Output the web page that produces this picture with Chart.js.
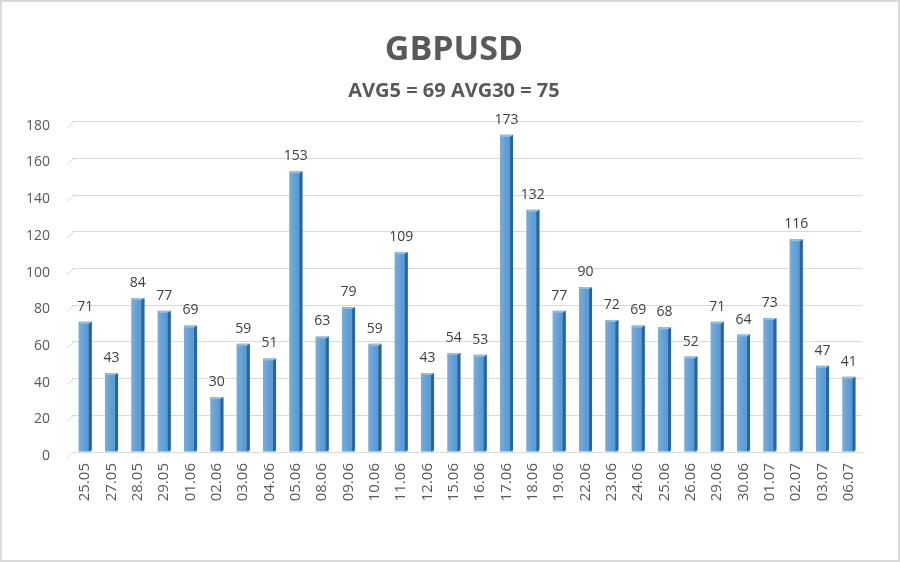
<!DOCTYPE html>
<html><head><meta charset="utf-8">
<script src="https://cdn.jsdelivr.net/npm/chart.js@4/dist/chart.umd.min.js"></script>
<style>html,body{margin:0;padding:0;background:#fff}#wrap{width:900px;height:562px}</style>
</head><body><div id="wrap"><canvas id="c" width="900" height="562"></canvas></div>
<script>
const categories = ["25.05","27.05","28.05","29.05","01.06","02.06","03.06","04.06","05.06","08.06","09.06","10.06","11.06","12.06","15.06","16.06","17.06","18.06","19.06","22.06","23.06","24.06","25.06","26.06","29.06","30.06","01.07","02.07","03.07","06.07"];
const values = [71,43,84,77,69,30,59,51,153,63,79,59,109,43,54,53,173,132,77,90,72,69,68,52,71,64,73,116,47,41];
const titleText = "GBPUSD";
const subtitleText = "AVG5 = 69 AVG30 = 75";
const yTicks = {min:0, max:180, step:20};

const FONT = "'Open Sans', 'DejaVu Sans', sans-serif";
const TXT = "#595959";

const deco = {
  id:'deco',
  afterLayout(chart){
    chart.boxes.forEach(b=>{
      if (b.options && b.options.text !== undefined && b.position === 'top') { b.left = 46; }
    });
  },
  beforeDraw(chart){
    const {ctx, scales:{y}, chartArea:a} = chart;
    ctx.save();
    ctx.fillStyle='#fff'; ctx.fillRect(0,0,chart.width,chart.height);
    ctx.strokeStyle='#d9d9d9'; ctx.lineWidth=2;
    ctx.strokeRect(1,1,chart.width-2,chart.height-2);
    ctx.lineWidth=1;
    y.ticks.forEach(t=>{
      const py = y.getPixelForValue(t.value);
      ctx.beginPath(); ctx.moveTo(a.left-5, py+6); ctx.lineTo(a.left+2, py); ctx.stroke();
    });
    ctx.restore();
  },
  afterDatasetsDraw(chart){
    const {ctx} = chart;
    const meta = chart.getDatasetMeta(0);
    ctx.save();
    meta.data.forEach((el,i)=>{
      const {x,y,base,width} = el.getProps(['x','y','base','width'],true);
      const l = x - width/2, r = x + width/2;
      const g = ctx.createLinearGradient(l,0,r,0);
      g.addColorStop(0,'rgba(255,255,255,0.18)');
      g.addColorStop(0.6,'rgba(255,255,255,0)');
      g.addColorStop(1,'rgba(0,0,0,0.08)');
      ctx.fillStyle=g; ctx.fillRect(l, y, width, base-y);
      ctx.fillStyle='#2a649c';
      ctx.beginPath();
      ctx.moveTo(r-3, y+2); ctx.lineTo(r, y); ctx.lineTo(r, base-2); ctx.lineTo(r-3, base); ctx.closePath(); ctx.fill();
      ctx.fillStyle='#8fc0ea';
      ctx.beginPath();
      ctx.moveTo(l, y+2); ctx.lineTo(l+3, y); ctx.lineTo(r, y); ctx.lineTo(r-3, y+2); ctx.closePath(); ctx.fill();
      ctx.fillStyle='#404040';
      ctx.font = "14px " + FONT;
      ctx.textAlign='center'; ctx.textBaseline='bottom';
      ctx.fillText(String(values[i]), x, y-8);
    });
    ctx.restore();
  }
};

new Chart(document.getElementById('c'), {
  type:'bar',
  data:{
    labels: categories,
    datasets:[{
      data: values,
      backgroundColor:'#5b9bd5',
      borderWidth:0,
      categoryPercentage:0.92,
      barPercentage:0.54
    }]
  },
  options:{
    responsive:false, animation:false,
    layout:{padding:{top:10,right:38,left:0,bottom:0}},
    plugins:{
      legend:{display:false}, tooltip:{enabled:false},
      title:{display:true, text:titleText, color:TXT, font:{family:FONT, size:34, weight:'bold'}, padding:{top:20,bottom:8}},
      subtitle:{display:true, text:subtitleText, color:TXT, font:{family:FONT, size:20, weight:'bold'}, padding:{top:0,bottom:19}}
    },
    scales:{
      x:{
        grid:{display:false, drawTicks:false},
        border:{display:true, color:'#d9d9d9', width:1},
        ticks:{color:TXT, font:{family:FONT, size:15}, minRotation:90, maxRotation:90, padding:11, autoSkip:false},
        afterFit(s){ s.height = 110; }
      },
      y:{
        min:yTicks.min, max:yTicks.max,
        grid:{color:'#d9d9d9', drawTicks:false},
        border:{display:false},
        ticks:{stepSize:yTicks.step, color:TXT, font:{family:FONT, size:14}, padding:22, labelOffset:4},
        afterFit(s){ s.width = 72; }
      }
    }
  },
  plugins:[deco]
});
</script>
</body></html>
